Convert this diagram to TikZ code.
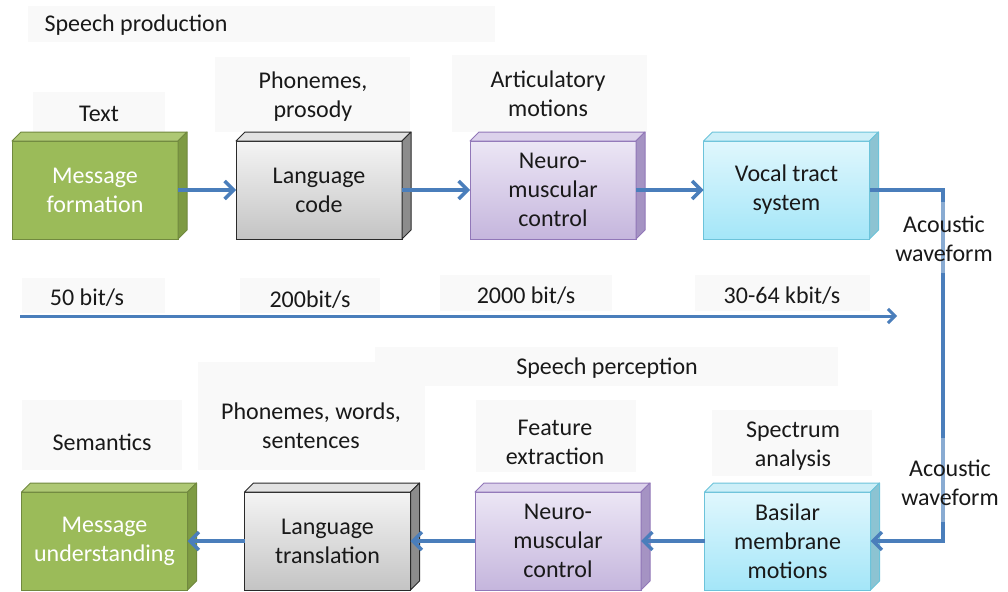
\documentclass[tikz,border=0pt]{standalone}
\usepackage{fontspec}
\setmainfont{Carlito}
\usetikzlibrary{arrows.meta}

\definecolor{flow}{HTML}{4A7EBB}
\definecolor{grnFront}{HTML}{9BBB59}
\definecolor{grnTop}{HTML}{AEC874}
\definecolor{grnSide}{HTML}{7E9B43}
\definecolor{grnLine}{HTML}{71893F}
\definecolor{gryTopC}{HTML}{F4F4F4}
\definecolor{gryBotC}{HTML}{C4C4C4}
\definecolor{gryTop}{HTML}{E2E2E2}
\definecolor{grySide}{HTML}{8C8C8C}
\definecolor{gryLine}{HTML}{2A2A2A}
\definecolor{purTopC}{HTML}{ECE6F5}
\definecolor{purBotC}{HTML}{C5B6DD}
\definecolor{purTop}{HTML}{DCD2EB}
\definecolor{purSide}{HTML}{A593C3}
\definecolor{purLine}{HTML}{9177B8}
\definecolor{cynTopC}{HTML}{E0F7FD}
\definecolor{cynBotC}{HTML}{A4E6F8}
\definecolor{cynTop}{HTML}{CDEFF8}
\definecolor{cynSide}{HTML}{8CC3D2}
\definecolor{cynLine}{HTML}{6CC3DA}
\definecolor{labelbg}{HTML}{F9F9F9}

\tikzset{
  txt/.style={font=\fontsize{24}{29}\selectfont, align=center, inner sep=0pt, text=black!90},
  face/.style={txt, minimum width=166pt, minimum height=98pt, outer sep=0pt, line width=1pt},
  greenface/.style={face, draw=grnLine, fill=grnFront, text=white},
  grayface/.style={face, draw=gryLine, top color=gryTopC, bottom color=gryBotC},
  purpleface/.style={face, draw=purLine, top color=purTopC, bottom color=purBotC},
  cyanface/.style={face, draw=cynLine, top color=cynTopC, bottom color=cynBotC},
  flowarrow/.style={draw=flow, line width=3.5pt, -{Straight Barb[length=9pt,width=18pt]}},
  ratearrow/.style={draw=flow, line width=3pt, -{Straight Barb[length=7pt,width=14pt]}},
  bgpatch/.style={fill=labelbg, draw=none},
  veilpatch/.style={fill=white, opacity=0.35, draw=none},
}

% top and right faces of a cuboid whose front face is node #1
\newcommand\cubefaces[4]{%
  \filldraw[fill=#2, draw=#4, line width=1pt, line join=round]
    (#1.north west) -- ([shift={(9,-9)}]#1.north west)
    -- ([shift={(9,-9)}]#1.north east) -- (#1.north east) -- cycle;
  \filldraw[fill=#3, draw=#4, line width=1pt, line join=round]
    (#1.north east) -- ([shift={(9,-9)}]#1.north east)
    -- ([shift={(9,-9)}]#1.south east) -- (#1.south east) -- cycle;}

\begin{document}
\begin{tikzpicture}[x=1pt, y=-1pt]
  \useasboundingbox (0,0) rectangle (1008,591);
  \clip (0,0) rectangle (1008,591);
  \fill[white] (0,0) rectangle (1008,591);

  % soft label backdrops
  \fill[bgpatch] (28,6) rectangle (495,42);
  \fill[bgpatch] (33,92) rectangle (165,132);
  \fill[bgpatch] (215,57) rectangle (410,132);
  \fill[bgpatch] (452,55) rectangle (647,132);
  \fill[bgpatch] (22,278) rectangle (165,313);
  \fill[bgpatch] (240,278) rectangle (380,313);
  \fill[bgpatch] (440,275) rectangle (612,311);
  \fill[bgpatch] (695,275) rectangle (870,311);
  \fill[bgpatch] (375,347) rectangle (838,386);
  \fill[bgpatch] (22,400) rectangle (182,470);
  \fill[bgpatch] (198,362) rectangle (425,470);
  \fill[bgpatch] (476,400) rectangle (636,472);
  \fill[bgpatch] (712,410) rectangle (872,476);

  % production chain
  \node[greenface]  (msgform) at (95,190)    {Message\\formation};
  \node[grayface]   (langcode) at (319,190)  {Language\\code};
  \node[purpleface] (neurotop) at (553,190)  {Neuro-\\muscular\\control};
  \node[cyanface]   (vocal) at (786.5,190)   {Vocal tract\\system};
  \cubefaces{msgform}{grnTop}{grnSide}{grnLine}
  \cubefaces{langcode}{gryTop}{grySide}{gryLine}
  \cubefaces{neurotop}{purTop}{purSide}{purLine}
  \cubefaces{vocal}{cynTop}{cynSide}{cynLine}

  % perception chain
  \node[greenface]  (msgund) at (104.5,541)  {Message\\understanding};
  \node[grayface]   (langtr) at (327.5,541)  {Language\\translation};
  \node[purpleface] (neurobot) at (558,541)  {Neuro-\\muscular\\control};
  \node[cyanface]   (basilar) at (787.5,541) {Basilar\\membrane\\motions};
  \cubefaces{msgund}{grnTop}{grnSide}{grnLine}
  \cubefaces{langtr}{gryTop}{grySide}{gryLine}
  \cubefaces{neurobot}{purTop}{purSide}{purLine}
  \cubefaces{basilar}{cynTop}{cynSide}{cynLine}

  % connectors
  \draw[flowarrow] (msgform.east) -- (langcode.west);
  \draw[flowarrow] (langcode.east) -- (neurotop.west);
  \draw[flowarrow] (neurotop.east) -- (vocal.west);
  \coordinate (wirex) at (943,0);
  \draw[flowarrow] (vocal.east) -- (vocal.east -| wirex) -- (wirex |- basilar.east) -- (basilar.east);
  \draw[flowarrow] (basilar.west) -- (neurobot.east);
  \draw[flowarrow] (neurobot.west) -- (langtr.east);
  \draw[flowarrow] (langtr.west) -- (msgund.east);

  % bit-rate axis
  \coordinate (ratestart) at (20,316);
  \coordinate (rateend) at (897,316);
  \draw[ratearrow] (ratestart) -- (rateend);

  % translucent backdrops of the waveform labels, over the wire
  \fill[veilpatch] (880,202) rectangle (1008,273);
  \fill[veilpatch] (900,438) rectangle (1008,522);

  % labels
  \node[txt] (prodtitle) at (136,25) {Speech production};
  \node[txt] (lbltext) at (99,114) {Text};
  \node[txt] (lblphon) at (313,97) {Phonemes,\\prosody};
  \node[txt] (lblartic) at (548,94) {Articulatory\\motions};
  \node[txt] (lblacone) at (944,239) {Acoustic\\waveform};
  \node[txt] (rfifty) at (87,298) {50 bit/s};
  \node[txt] (rtwohund) at (310,300) {200bit/s};
  \node[txt] (rtwothou) at (526,296) {2000 bit/s};
  \node[txt] (rkbit) at (782,296) {30-64 kbit/s};
  \node[txt] (perctitle) at (607,368) {Speech perception};
  \node[txt] (lblsem) at (102,442) {Semantics};
  \node[txt] (lblwords) at (311,426) {Phonemes, words,\\sentences};
  \node[txt] (lblfeat) at (555,442) {Feature\\extraction};
  \node[txt] (lblspec) at (793,446) {Spectrum\\analysis};
  \node[txt] (lblactwo) at (950,483) {Acoustic\\waveform};
\end{tikzpicture}
\end{document}
